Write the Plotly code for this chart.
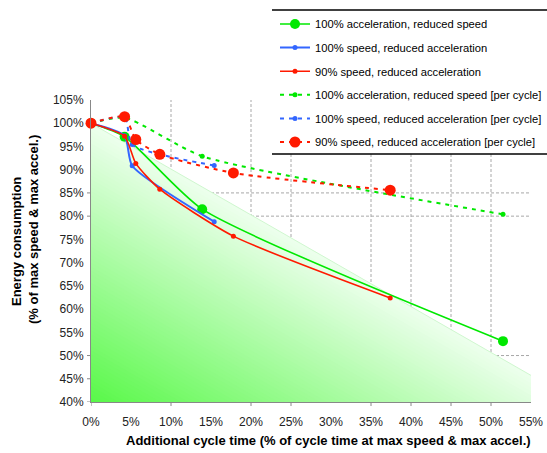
import plotly.graph_objects as go

# ---------------- data ----------------
green_x = [0, 4.2, 13.9, 51.5]
green_y = [100, 97.1, 81.5, 53.1]
blue_x = [0, 4.2, 5.15, 15.4]
blue_y = [100, 97.3, 90.85, 78.8]
red_x = [0, 4.2, 5.6, 8.6, 17.8, 37.4]
red_y = [100, 97.2, 91.35, 85.8, 75.7, 62.4]
green_pc_y = [100, 101.2, 92.9, 80.4]
blue_pc_y = [100, 101.3, 95.4, 90.9]
red_pc_y = [100, 101.4, 96.5, 93.3, 89.3, 85.6]

x_ticks = list(range(0, 60, 5))
y_ticks = list(range(40, 110, 5))
x_grid = [10, 20, 25, 35, 40, 45, 50]
y_grid = [45, 50, 80, 85]
x_tickmarks = [0, 10, 20, 25, 35, 40, 45, 50]
y_tickmarks = [40, 45, 50, 80, 85]

names = [
    "100% acceleration, reduced speed",
    "100% speed, reduced acceleration",
    "90% speed, reduced acceleration",
    "100% acceleration, reduced speed [per cycle]",
    "100% speed, reduced acceleration [per cycle]",
    "90% speed, reduced acceleration [per cycle]",
]

GREEN = "#00E800"
BLUE = "#3366FF"
RED = "#FF1A00"
FONT = "Liberation Sans, Arial, sans-serif"

# background triangle (region below the "equal" line)
TRI_X0, TRI_Y0, TRI_X1, TRI_Y1 = 0, 100, 60.8, 40

PL, PR, PT, PB = 91, 531, 100, 402
W, H = 547, 453
def px(x):
    return (x - PL) / (PR - PL)
def py(y):
    return (PB - y) / (PB - PT)

fig = go.Figure()

series = [
    (green_x, green_y, GREEN, "solid", 1.6, 10),
    (blue_x, blue_y, BLUE, "solid", 2, 5),
    (red_x, red_y, RED, "solid", 1.6, 5),
    (green_x, green_pc_y, GREEN, "4px,5px", 2, 5),
    (blue_x, blue_pc_y, BLUE, "4px,5px", 2, 5),
    (red_x, red_pc_y, RED, "4px,5px", 2, 11),
]
for i, (xs, ys, col, dash, w, ms) in enumerate(series):
    fig.add_trace(go.Scatter(
        x=xs, y=ys, name=names[i], mode="lines+markers",
        line=dict(color=col, width=w, dash=dash, shape="spline", smoothing=0.6),
        marker=dict(color=col, size=ms, symbol="circle", line=dict(width=0)),
        legendgroup=str(i), cliponaxis=False,
    ))

shapes = []
# gradient fill: nested triangles, light at the diagonal edge, green at the corner
N = 70
g0 = (88, 248, 72)
g1 = (236, 255, 236)
for j in range(N, 0, -1):
    k = j / N
    c = tuple(int(round(g0[m] + (g1[m] - g0[m]) * k)) for m in range(3))
    xk = TRI_X0 + (TRI_X1 - TRI_X0) * k
    yk = TRI_Y1 + (TRI_Y0 - TRI_Y1) * k
    shapes.append(dict(
        type="path", xref="x", yref="y", layer="below",
        path=f"M {TRI_X0},{TRI_Y1} L {xk},{TRI_Y1} L {TRI_X0},{yk} Z",
        fillcolor=f"rgb{c}", line=dict(width=0),
    ))
shapes.append(dict(type="line", xref="x", yref="y", layer="below",
                   x0=TRI_X0, y0=TRI_Y0, x1=TRI_X1, y1=TRI_Y1,
                   line=dict(color="#CFF7CF", width=1)))

grid_col = "#A8A8A8"
axis_col = "#888888"
# gridlines (only those visible in the reference)
for gx in x_grid:
    shapes.append(dict(type="line", xref="x", yref="paper", layer="between",
                       x0=gx, x1=gx, y0=0, y1=1,
                       line=dict(color=grid_col, width=1, dash="3px,2px")))
for gy in y_grid:
    shapes.append(dict(type="line", xref="paper", yref="y", layer="between",
                       x0=0, x1=1, y0=gy, y1=gy,
                       line=dict(color=grid_col, width=1, dash="3px,2px")))
# tick marks
for tx in x_tickmarks:
    shapes.append(dict(type="line", xref="x", yref="paper", layer="above",
                       x0=tx, x1=tx, y0=0, y1=-4 / (PB - PT),
                       line=dict(color=axis_col, width=1)))
for ty in y_tickmarks:
    shapes.append(dict(type="line", xref="paper", yref="y", layer="above",
                       x0=0, x1=-4 / (PR - PL), y0=ty, y1=ty,
                       line=dict(color=axis_col, width=1)))

# legend box: white panel plus top / bottom rules
shapes.append(dict(type="rect", xref="paper", yref="paper", layer="above",
                   x0=px(272), x1=px(548), y0=py(154), y1=py(10),
                   fillcolor="white", line=dict(width=0)))
for yy in (10, 154):
    shapes.append(dict(type="line", xref="paper", yref="paper", layer="above",
                       x0=px(272), x1=px(548), y0=py(yy), y1=py(yy),
                       line=dict(color="black", width=1.5)))

tick_font = dict(family=FONT, size=12, color="#222222")

fig.update_layout(
    width=W, height=H,
    margin=dict(l=PL, r=W - PR, t=PT, b=H - PB, autoexpand=False),
    paper_bgcolor="white", plot_bgcolor="white",
    shapes=shapes,
    showlegend=True,
    legend=dict(
        x=px(275), y=py(9.5), xanchor="left", yanchor="top",
        bgcolor="rgba(0,0,0,0)", borderwidth=0,
        font=dict(family=FONT, size=11.2, color="black"),
        traceorder="grouped", tracegroupgap=4.6,
    ),
    xaxis=dict(
        range=[0, 55], tickvals=x_ticks, ticktext=[f"{v}%" for v in x_ticks],
        showgrid=False, zeroline=False, showline=True, linecolor=axis_col, linewidth=1,
        ticks="outside", ticklen=4, tickcolor="rgba(0,0,0,0)",
        ticklabelstandoff=5, tickfont=tick_font,
    ),
    yaxis=dict(
        range=[40, 105], tickvals=y_ticks, ticktext=[f"{v}%" for v in y_ticks],
        showgrid=False, zeroline=False, showline=True, linecolor=axis_col, linewidth=1,
        ticks="outside", ticklen=4, tickcolor="rgba(0,0,0,0)",
        tickfont=tick_font,
    ),
    annotations=[
        dict(text="<b>Additional cycle time (% of cycle time at max speed & max accel.)</b>",
             xref="paper", yref="paper", x=px(328), y=py(440), xanchor="center",
             yanchor="middle", showarrow=False,
             font=dict(family=FONT, size=13, color="black")),
        dict(text="<b>Energy consumption</b>", textangle=-90,
             xref="paper", yref="paper", x=px(16), y=py(242), xanchor="center",
             yanchor="middle", showarrow=False,
             font=dict(family=FONT, size=13, color="black")),
        dict(text="<b>(% of max speed & max accel.)</b>", textangle=-90,
             xref="paper", yref="paper", x=px(33), y=py(230), xanchor="center",
             yanchor="middle", showarrow=False,
             font=dict(family=FONT, size=13, color="black")),
    ],
)

fig.write_html("out.html")
